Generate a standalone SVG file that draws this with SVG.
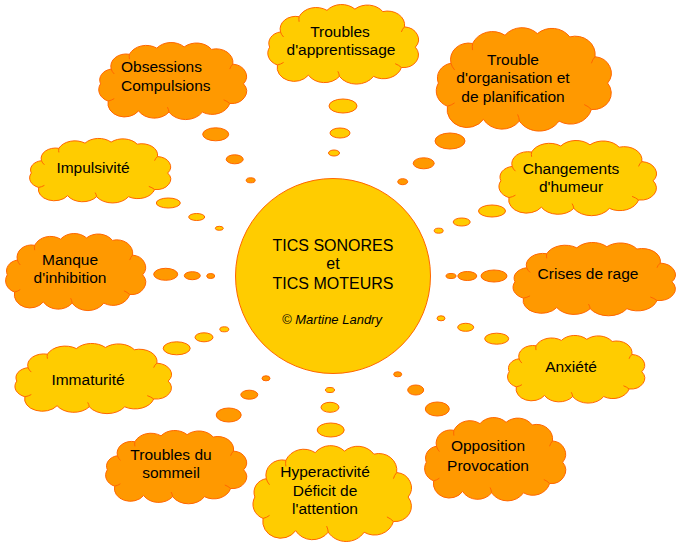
<svg xmlns="http://www.w3.org/2000/svg" xmlns:xlink="http://www.w3.org/1999/xlink" width="682" height="542" viewBox="0 0 682 542">
<style>
.y{fill:#FFCC00;stroke:#FF6600;stroke-width:1}
.o{fill:#FF9900;stroke:#FF6600;stroke-width:1}
text{font-family:"Liberation Sans",Arial,sans-serif;font-size:15.5px;fill:#000;text-anchor:middle}
.c{font-size:16px}
.i{font-size:13px;font-style:italic}
.l{text-anchor:start}
</style>
<defs>
<path id="cloud" vector-effect="non-scaling-stroke" d="M10,22 A10,10 0 0 1 22,10 A12,12 0 0 1 40,5 A12,12 0 0 1 58,4 A12,12 0 0 1 76,6 A11,11 0 0 1 90,18 A10,10 0 0 1 97,34 A10,10 0 0 1 88,50 A12,12 0 0 1 70,57 A13,13 0 0 1 48,57 A12,12 0 0 1 28,56 A11,11 0 0 1 8,48 A10,10 0 0 1 3,34 A9,9 0 0 1 10,22 Z"/>
<path id="inner" vector-effect="non-scaling-stroke" fill="none" d="M10,22 A10,10 0 0 0 12,26 M22,10 A12,12 0 0 0 22,14 M90,18 A10,10 0 0 0 88,22 M88,50 A12,12 0 0 0 84,47 M48,57 A12,12 0 0 0 47,53 M8,48 A10,10 0 0 0 12,46"/>
</defs>
<g id="connectors">
<ellipse class="y" cx="343" cy="106" rx="14" ry="7"/>
<ellipse class="y" cx="340" cy="133" rx="10" ry="5"/>
<ellipse class="y" cx="334" cy="153" rx="5.5" ry="3"/>
<ellipse class="o" cx="215.7" cy="134.3" rx="13" ry="6.5"/>
<ellipse class="o" cx="234.7" cy="159.3" rx="8.5" ry="4.5"/>
<ellipse class="o" cx="250.7" cy="180.3" rx="4.5" ry="2.5"/>
<ellipse class="y" cx="168.3" cy="203" rx="12" ry="5"/>
<ellipse class="y" cx="196.7" cy="217" rx="8" ry="3.5"/>
<ellipse class="y" cx="219.3" cy="228.3" rx="4" ry="2"/>
<ellipse class="o" cx="450" cy="141" rx="15" ry="8"/>
<ellipse class="o" cx="423.7" cy="163.3" rx="10.5" ry="5.5"/>
<ellipse class="o" cx="402.7" cy="181.7" rx="5" ry="3"/>
<ellipse class="y" cx="492" cy="211" rx="13.5" ry="6"/>
<ellipse class="y" cx="461.7" cy="222" rx="8.5" ry="4"/>
<ellipse class="y" cx="438.7" cy="230.7" rx="4.5" ry="2.5"/>
<ellipse class="o" cx="165.7" cy="274.3" rx="12" ry="6"/>
<ellipse class="o" cx="192.3" cy="275.7" rx="8" ry="4"/>
<ellipse class="o" cx="210.7" cy="276" rx="4" ry="2.5"/>
<ellipse class="o" cx="494" cy="276" rx="13" ry="6"/>
<ellipse class="o" cx="467.3" cy="276" rx="9.5" ry="4.5"/>
<ellipse class="o" cx="451" cy="276" rx="5" ry="2.5"/>
<ellipse class="y" cx="496.7" cy="338.7" rx="12" ry="5.5"/>
<ellipse class="y" cx="465.7" cy="327.3" rx="8" ry="4"/>
<ellipse class="y" cx="441" cy="318.3" rx="4" ry="2.5"/>
<ellipse class="y" cx="176.7" cy="348.3" rx="13.5" ry="6.5"/>
<ellipse class="y" cx="204" cy="337.3" rx="9" ry="4.5"/>
<ellipse class="y" cx="224.3" cy="329.3" rx="4.5" ry="2.5"/>
<ellipse class="o" cx="228.7" cy="415" rx="12.5" ry="7"/>
<ellipse class="o" cx="249.3" cy="394.7" rx="8.5" ry="4.5"/>
<ellipse class="o" cx="266" cy="378.3" rx="4" ry="2.5"/>
<ellipse class="y" cx="330.7" cy="430" rx="13.5" ry="7"/>
<ellipse class="y" cx="330" cy="407.3" rx="9" ry="5"/>
<ellipse class="y" cx="330" cy="390" rx="4.5" ry="2.5"/>
<ellipse class="o" cx="437.3" cy="409" rx="12" ry="7"/>
<ellipse class="o" cx="415.7" cy="390" rx="8" ry="5"/>
<ellipse class="o" cx="397.7" cy="374.3" rx="4" ry="2.5"/>
</g>
<g id="center">
<circle class="y" cx="333" cy="276" r="97.5"/>
<text class="c" x="333" y="251">TICS SONORES</text>
<text class="c" x="333" y="269">et</text>
<text class="c" x="333" y="289">TICS MOTEURS</text>
<text class="i" x="332" y="324">© Martine Landry</text>
</g>
<g id="n1">
<use xlink:href="#cloud" class="y" transform="translate(265,4) scale(1.55,1.27)"/>
<use xlink:href="#inner" class="y" transform="translate(265,4) scale(1.55,1.27)"/>
<text x="340" y="37">Troubles</text>
<text x="341" y="55">d'apprentissage</text>
</g>
<g id="n2">
<use xlink:href="#cloud" class="o" transform="translate(433,27) scale(1.8,1.65)"/>
<use xlink:href="#inner" class="o" transform="translate(433,27) scale(1.8,1.65)"/>
<text x="513" y="65">Trouble</text>
<text x="513" y="83">d'organisation et</text>
<text x="513" y="102">de planification</text>
</g>
<g id="n3">
<use xlink:href="#cloud" class="o" transform="translate(96,42) scale(1.52,1.23)"/>
<use xlink:href="#inner" class="o" transform="translate(96,42) scale(1.52,1.23)"/>
<text class="l" x="121" y="72">Obsessions</text>
<text class="l" x="121" y="91">Compulsions</text>
</g>
<g id="n4">
<use xlink:href="#cloud" class="y" transform="translate(27,138) scale(1.45,1.03)"/>
<use xlink:href="#inner" class="y" transform="translate(27,138) scale(1.45,1.03)"/>
<text x="93" y="173">Impulsivité</text>
</g>
<g id="n5">
<use xlink:href="#cloud" class="y" transform="translate(496,140) scale(1.62,1.2)"/>
<use xlink:href="#inner" class="y" transform="translate(496,140) scale(1.62,1.2)"/>
<text x="571" y="174">Changements</text>
<text x="571" y="192">d'humeur</text>
</g>
<g id="n6">
<use xlink:href="#cloud" class="o" transform="translate(3,233) scale(1.44,1.23)"/>
<use xlink:href="#inner" class="o" transform="translate(3,233) scale(1.44,1.23)"/>
<text x="70" y="265">Manque</text>
<text x="70" y="283">d'inhibition</text>
</g>
<g id="n7">
<use xlink:href="#cloud" class="o" transform="translate(510,242) scale(1.67,1.17)"/>
<use xlink:href="#inner" class="o" transform="translate(510,242) scale(1.67,1.17)"/>
<text x="588" y="279">Crises de rage</text>
</g>
<g id="n8">
<use xlink:href="#cloud" class="y" transform="translate(12,343) scale(1.61,1.12)"/>
<use xlink:href="#inner" class="y" transform="translate(12,343) scale(1.61,1.12)"/>
<text x="88" y="385">Immaturité</text>
</g>
<g id="n9">
<use xlink:href="#cloud" class="y" transform="translate(505,335) scale(1.41,1.08)"/>
<use xlink:href="#inner" class="y" transform="translate(505,335) scale(1.41,1.08)"/>
<text x="571" y="372">Anxiété</text>
</g>
<g id="n10">
<use xlink:href="#cloud" class="o" transform="translate(103,430) scale(1.45,1.17)"/>
<use xlink:href="#inner" class="o" transform="translate(103,430) scale(1.45,1.17)"/>
<text x="171" y="460">Troubles du</text>
<text x="171" y="478">sommeil</text>
</g>
<g id="n11">
<use xlink:href="#cloud" class="y" transform="translate(250,445) scale(1.63,1.53)"/>
<use xlink:href="#inner" class="y" transform="translate(250,445) scale(1.63,1.53)"/>
<text x="325" y="477">Hyperactivité</text>
<text x="325" y="496">Déficit de</text>
<text x="325" y="514">l'attention</text>
</g>
<g id="n12">
<use xlink:href="#cloud" class="o" transform="translate(422,417) scale(1.45,1.33)"/>
<use xlink:href="#inner" class="o" transform="translate(422,417) scale(1.45,1.33)"/>
<text x="488" y="451">Opposition</text>
<text x="488" y="471">Provocation</text>
</g>
</svg>
